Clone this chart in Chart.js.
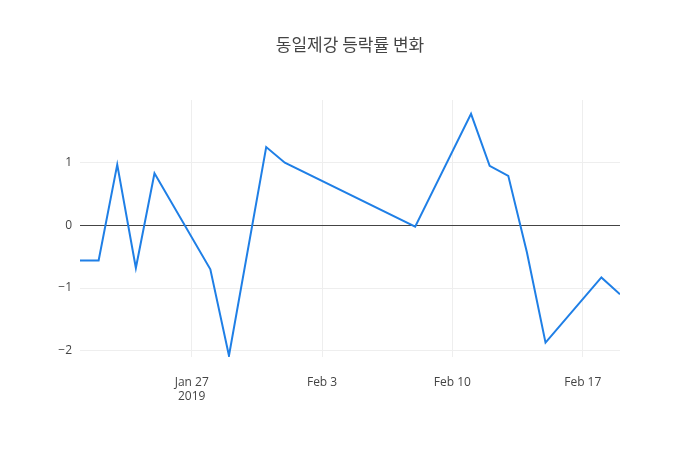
<!DOCTYPE html>
<html>
<head>
<meta charset="utf-8">
<script src="https://cdn.jsdelivr.net/npm/chart.js@4"></script>
<style>body{margin:0;background:#fff}#wrap{width:700px;height:450px}</style>
</head>
<body>
<div id="wrap"><canvas id="c"></canvas></div>
<script>
// day offsets from 2019-01-21
const days = [0, 1, 2, 3, 4, 7, 8, 10, 11, 18, 21, 22, 23, 24, 25, 28, 29];
const changes = [-0.56, -0.56, 0.97, -0.68, 0.83, -0.70, -2.08, 1.25, 1.0, -0.02, 1.78, 0.95, 0.79, -0.43, -1.87, -0.83, -1.10];
const xTicks = [6, 13, 20, 27];
const xTickLabels = [['Jan 27', '2019'], 'Feb 3', 'Feb 10', 'Feb 17'];
const yTicks = [-2, -1, 0, 1];
const titleText = '동일제강 등락률 변화';

// title centred on the whole canvas, not the padded area
const pageTitle = {
    id: 'pageTitle',
    afterDraw(chart) {
        const ctx = chart.ctx;
        ctx.save();
        ctx.font = '17px "Noto Sans CJK KR"';
        ctx.fillStyle = '#444';
        ctx.textAlign = 'center';
        ctx.textBaseline = 'middle';
        ctx.fillText(titleText, chart.width / 2, 45);
        ctx.restore();
    }
};

new Chart(document.getElementById('c'), {
    type: 'line',
    data: {
        datasets: [{
            data: days.map((d, i) => ({ x: d, y: changes[i] })),
            borderColor: '#1f7fe6',
            borderWidth: 2,
            pointRadius: 0,
            tension: 0
        }]
    },
    options: {
        responsive: true,
        maintainAspectRatio: false,
        animation: false,
        layout: { padding: { left: 0, right: 80, top: 100, bottom: 33 } },
        plugins: {
            legend: { display: false },
            tooltip: { enabled: false },
            title: { display: false }
        },
        scales: {
            x: {
                type: 'linear',
                min: 0, max: 29,
                afterBuildTicks: s => { s.ticks = xTicks.map(v => ({ value: v })); },
                afterFit: s => { s.height = 60; },
                ticks: {
                    color: '#444',
                    font: { family: 'Open Sans', size: 12 },
                    padding: 18,
                    callback: v => xTickLabels[xTicks.indexOf(v)],
                    maxRotation: 0
                },
                grid: { color: '#eee', drawTicks: false },
                border: { display: false }
            },
            y: {
                min: -2.1, max: 2.0,
                afterBuildTicks: s => { s.ticks = yTicks.map(v => ({ value: v })); },
                afterFit: s => { s.width = 80; },
                ticks: {
                    color: '#444',
                    font: { family: 'Open Sans', size: 12 },
                    padding: 8,
                    callback: v => v < 0 ? '\u2212' + Math.abs(v) : String(v)
                },
                grid: {
                    drawTicks: false,
                    color: c => c.tick && c.tick.value === 0 ? '#444' : '#eee',
                    lineWidth: 1
                },
                border: { display: false }
            }
        }
    },
    plugins: [pageTitle]
});
</script>
</body>
</html>
